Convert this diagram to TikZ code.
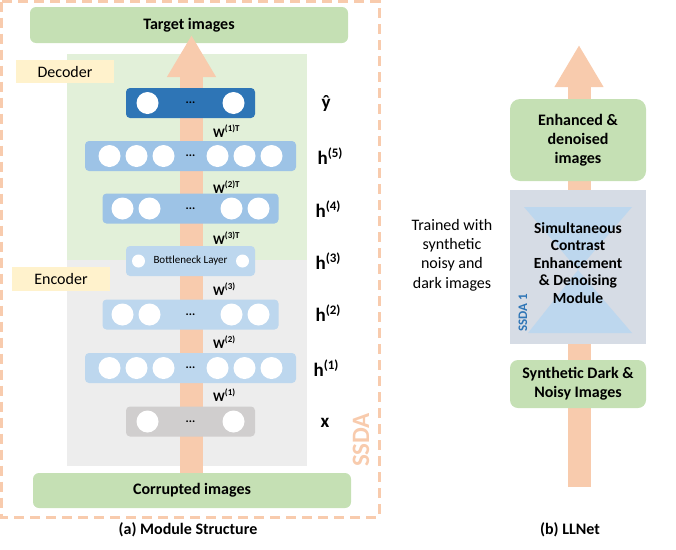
\documentclass[tikz,border=0pt]{standalone}
\usepackage{fontspec}
\setmainfont{Carlito}
\usetikzlibrary{arrows.meta,positioning}
\definecolor{peach}{HTML}{F8CBAD}
\definecolor{lgreen}{HTML}{C5E0B4}
\definecolor{pgreen}{HTML}{E2F0D9}
\definecolor{pgray}{HTML}{EDEDED}
\definecolor{dblue}{HTML}{2E75B6}
\definecolor{mblue}{HTML}{9DC3E6}
\definecolor{lblue}{HTML}{BDD7EE}
\definecolor{lgray}{HTML}{D0CECE}
\definecolor{pyellow}{HTML}{FFF2CC}
\definecolor{slate}{HTML}{D6DCE5}
\newcommand{\fs}[1]{\fontsize{#1}{#1}\selectfont}
\newcommand{\hsup}[1]{\raisebox{0.38em}{\fs{13}#1}}
\newcommand{\wsup}[1]{\raisebox{0.45em}{\fs{9}#1}}
\newcommand{\nnlayer}[5]{%
    \node[layer, fill=#2, minimum width=#3] (#1) at (190.5,#4) {\textbf{...}};
    \foreach \dx [count=\i] in {#5} \node[unit] (#1-\i) at ([xshift=\dx]#1.center) {};
}

\begin{document}
\begin{tikzpicture}[x=1pt, y=-1pt,
    box/.style={fill=lgreen, rounded corners=6, inner sep=0, font=\fs{16}\bfseries},
    tagbox/.style={fill=pyellow, inner sep=0, minimum width=98, minimum height=23, font=\fs{16}},
    layer/.style={rounded corners=4, inner sep=0, minimum height=30, font=\fs{12}},
    unit/.style={circle, fill=white, inner sep=0, minimum size=22},
    hlab/.style={font=\fs{19}\bfseries},
    wlab/.style={anchor=west, inner sep=0, font=\fs{13}\bfseries},
    bigarrow/.style={peach, line width=23, -{Triangle[width=46pt, length=42pt]}}]
    \useasboundingbox (0,0) rectangle (676,549);
    % (a) module structure
    \draw[peach, line width=3, dash pattern=on 10pt off 6pt] (1.5,1.5) rectangle (379,517);
    \node[box, minimum width=318, minimum height=36] (target) at (189,25) {Target images};
    \fill[pgreen] (67,54) rectangle (307,260);
    \fill[pgray] (67,260) rectangle (307,466);
    \node[tagbox] (dec) at (65,71.5) {Decoder};
    \node[tagbox, minimum height=24] (enc) at (61,279) {Encoder};
    \coordinate (abot) at (191.5,478);
    \coordinate (atip) at (191.5,35);
    \draw[bigarrow] (abot) -- (atip);
    \nnlayer{yhat}{dblue}{129}{103}{-43,43}
    \nnlayer{h5}{mblue}{211}{156}{-81,-54,-27,27,54,81}
    \nnlayer{h4}{mblue}{176}{208.5}{-68,-41,41,68}
    \node[layer, fill=lblue, minimum width=129, font=\fs{11}] (h3) at (190.5,261) {Bottleneck Layer};
    \foreach \dx [count=\i] in {-52,52} \node[unit, minimum size=13] (h3-\i) at ([xshift=\dx]h3.center) {};
    \nnlayer{h2}{lblue}{176}{314.5}{-68,-41,41,68}
    \nnlayer{h1}{lblue}{211}{368}{-81,-54,-27,27,54,81}
    \nnlayer{x}{lgray}{129}{421.5}{-43,43}
    \node[box, minimum width=318, minimum height=35] (corrupt) at (192,490.5) {Corrupted images};
    % weights and layer names
    \node[wlab] (w1t) at (213,131) {W\wsup{(1)T}};
    \node[wlab] (w2t) at (213,187) {W\wsup{(2)T}};
    \node[wlab] (w3t) at (213,238) {W\wsup{(3)T}};
    \node[wlab] (w3) at (213,289) {W\wsup{(3)}};
    \node[wlab] (w2) at (213,342) {W\wsup{(2)}};
    \node[wlab] (w1) at (213,395) {W\wsup{(1)}};
    \node[hlab] (lyhat) at (326,104) {ŷ};
    \node[hlab] (lh5) at (330,156) {h\hsup{(5)}};
    \node[hlab] (lh4) at (328,209) {h\hsup{(4)}};
    \node[hlab] (lh3) at (328,261) {h\hsup{(3)}};
    \node[hlab] (lh2) at (328,313) {h\hsup{(2)}};
    \node[hlab] (lh1) at (326,368) {h\hsup{(1)}};
    \node[hlab] (lx) at (325,423) {x};
    \node[rotate=90, text=peach, font=\fs{25}\bfseries] (ssda) at (361,440) {SSDA};
    \node[font=\fs{16}\bfseries] (capa) at (188,530) {(a) Module Structure};
    % (b) LLNet
    \coordinate (bbot) at (579,487);
    \coordinate (btip) at (579,45);
    \draw[bigarrow] (bbot) -- (btip);
    \node[box, rounded corners=10, minimum width=136, minimum height=82, align=center,
        font=\fontsize{16}{19}\selectfont\bfseries] (enh) at (578,140) {Enhanced \&\\denoised\\images};
    \node[fill=slate, inner sep=0, minimum width=136, minimum height=154] (sdae) at (578,267) {};
    \fill[lblue] (524,207) -- (632,207) -- (578,270) -- cycle;
    \fill[lblue] (528,333) -- (632,333) -- (578,270) -- cycle;
    \node[align=center, font=\fontsize{15.5}{17.5}\selectfont\bfseries] (sim) at (578,263)
        {Simultaneous\\Contrast\\Enhancement\\\& Denoising\\Module};
    \node[rotate=90, text=dblue, font=\fs{13}\bfseries] (ssda1) at (523,313) {SSDA 1};
    \node[box, rounded corners=8, minimum width=136, minimum height=48, align=center,
        font=\fontsize{16}{19}\selectfont\bfseries] (syn) at (578,384) {Synthetic Dark \&\\Noisy Images};
    \node[align=center, font=\fontsize{16}{19.3}\selectfont] (train) at (452,255)
        {Trained with\\synthetic\\noisy and\\dark images};
    \node[font=\fs{16}\bfseries] (capb) at (570,530) {(b) LLNet};
\end{tikzpicture}
\end{document}
